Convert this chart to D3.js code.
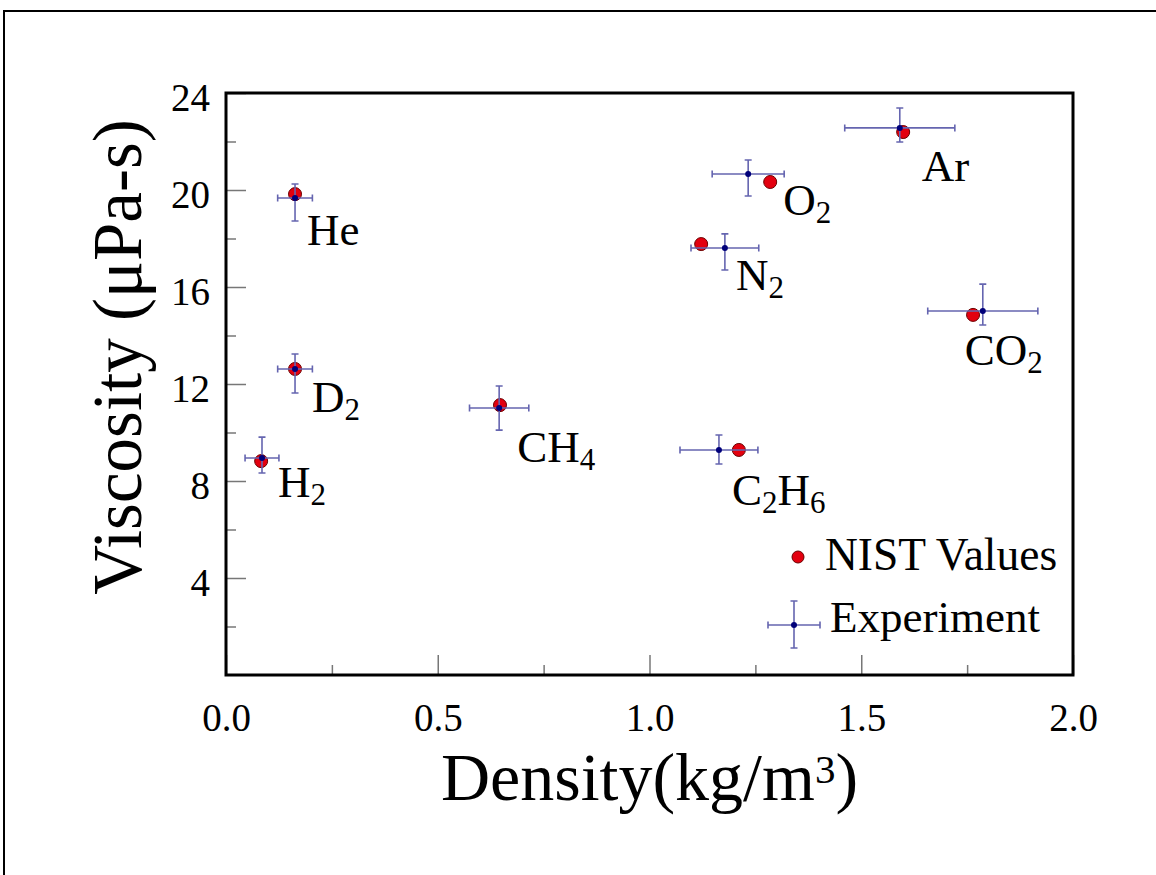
<!DOCTYPE html>
<html>
<head>
<meta charset="utf-8">
<script src="https://cdn.jsdelivr.net/npm/d3@7"></script>
<style>
  body { margin: 0; background: #fff; }
  svg { display: block; font-family: "Liberation Serif", "Times New Roman", serif; }
</style>
</head>
<body>
<script>
// gases
const gases = ['He', 'D2', 'H2', 'CH4', 'C2H6', 'N2', 'O2', 'Ar', 'CO2']

const nistDensity = [0.163, 0.163, 0.083, 0.647, 1.211, 1.122, 1.285, 1.599, 1.764]
const nistVisc = [19.83, 12.62, 8.82, 11.13, 9.28, 17.77, 20.33, 22.39, 14.85]

const expDensity = [0.163, 0.163, 0.085, 0.645, 1.164, 1.178, 1.233, 1.591, 1.787]
const expDensityErr = [0.041, 0.041, 0.040, 0.070, 0.092, 0.080, 0.085, 0.130, 0.130]
const expVisc = [19.67, 12.62, 8.95, 11.01, 9.28, 17.61, 20.66, 22.56, 15.01]
const expViscHi = [20.25, 13.24, 9.81, 11.92, 9.90, 18.19, 21.24, 23.38, 16.12]
const expViscLo = [18.72, 11.63, 8.33, 10.10, 8.70, 16.70, 19.75, 21.98, 14.43]

const xMajor = [0, 0.5, 1.0, 1.5, 2.0]
const xMinor = [0.25, 0.75, 1.25, 1.75]
const yMajor = [4, 8, 12, 16, 20, 24]
const yMinor = [2, 6, 10, 14, 18, 22]

// label offsets from the experiment point, px
const labelOffsets = [[12, 47], [17, 43], [16, 39], [18, 54], [13, 55], [11, 42], [35, 41], [22, 53], [-18, 54]]

const W = 1156, H = 875
const plotLeft = 226, plotRight = 1073, plotTop = 93, plotBottom = 675
const barColor = '#6565b0'

const svg = d3.select('body').append('svg')
    .attr('width', W)
    .attr('height', H)

// outer border
svg.append('path')
    .attr('d', `M4,${H} L4,11 L${W},11`)
    .attr('fill', 'none')
    .attr('stroke', '#000')
    .attr('stroke-width', 2)

const x = d3.scaleLinear().domain([0, 2]).range([plotLeft, plotRight])
const y = d3.scaleLinear().domain([0, 24]).range([plotBottom, plotTop])

function drawAxis(axis, tr, cls) {
    const g = svg.append('g')
        .attr('class', cls)
        .attr('transform', tr)
        .call(axis)
    g.select('.domain').remove()
    g.selectAll('.tick line').attr('stroke', '#777').attr('stroke-width', 1.5)
    g.selectAll('.tick text')
        .attr('fill', '#000')
        .style('font-family', '"Liberation Serif", serif')
        .style('font-size', '39px')
    return g
}

drawAxis(d3.axisBottom(x).tickValues(xMajor).tickSize(-20).tickPadding(28)
    .tickFormat(d3.format('.1f')), `translate(0,${plotBottom})`, 'x-major')
drawAxis(d3.axisBottom(x).tickValues(xMinor).tickSize(-10).tickFormat(''),
    `translate(0,${plotBottom})`, 'x-minor')
const yg = drawAxis(d3.axisLeft(y).tickValues(yMajor).tickSize(-20).tickPadding(16)
    .tickFormat(d3.format('d')), `translate(${plotLeft},0)`, 'y-major')
yg.selectAll('.tick text').attr('dy', '17px')
drawAxis(d3.axisLeft(y).tickValues(yMinor).tickSize(-10).tickFormat(''),
    `translate(${plotLeft},0)`, 'y-minor')

// frame
svg.append('rect')
    .attr('x', plotLeft)
    .attr('y', plotTop)
    .attr('width', plotRight - plotLeft)
    .attr('height', plotBottom - plotTop)
    .attr('fill', 'none')
    .attr('stroke', '#000')
    .attr('stroke-width', 3)

// NIST values
svg.append('g')
    .selectAll('circle')
    .data(gases)
    .enter().append('circle')
    .attr('cx', (d, i) => x(nistDensity[i]))
    .attr('cy', (d, i) => y(nistVisc[i]))
    .attr('r', 6.5)
    .attr('fill', '#e3000f')
    .attr('stroke', '#6a0000')
    .attr('stroke-width', 1)

// experiment with error bars
const cap = 3.5
const exp = svg.append('g')
    .selectAll('g')
    .data(gases)
    .enter().append('g')
    .attr('stroke', barColor)
    .attr('stroke-width', 1.6)

exp.append('path')
    .attr('fill', 'none')
    .attr('d', (d, i) => {
        const cx = x(expDensity[i]), cy = y(expVisc[i])
        const x0 = x(expDensity[i] - expDensityErr[i]), x1 = x(expDensity[i] + expDensityErr[i])
        const y0 = y(expViscLo[i]), y1 = y(expViscHi[i])
        return `M${x0},${cy}H${x1}M${cx},${y0}V${y1}`
            + `M${x0},${cy - cap}V${cy + cap}M${x1},${cy - cap}V${cy + cap}`
            + `M${cx - cap},${y0}H${cx + cap}M${cx - cap},${y1}H${cx + cap}`
    })

exp.append('circle')
    .attr('cx', (d, i) => x(expDensity[i]))
    .attr('cy', (d, i) => y(expVisc[i]))
    .attr('r', 3)
    .attr('fill', '#00007a')
    .attr('stroke', 'none')

// gas labels, digits as subscripts
const labels = svg.append('g')
    .selectAll('text')
    .data(gases)
    .enter().append('text')
    .attr('x', (d, i) => x(expDensity[i]) + labelOffsets[i][0])
    .attr('y', (d, i) => y(expVisc[i]) + labelOffsets[i][1])
    .style('font-size', '45px')

labels.each(function (d) {
    const t = d3.select(this)
    let sub = false
    d.split('').forEach(ch => {
        const isDigit = /\d/.test(ch)
        const s = t.append('tspan').text(ch)
        if (isDigit) {
            s.style('font-size', '31px')
            if (!sub) s.attr('dy', 8)
        } else if (sub) {
            s.attr('dy', -8)
        }
        sub = isDigit
    })
})

// legend
const legend = svg.append('g')
legend.append('circle')
    .attr('cx', 798).attr('cy', 557).attr('r', 6)
    .attr('fill', '#e3000f').attr('stroke', '#6a0000')
legend.append('text')
    .attr('x', 825).attr('y', 570)
    .style('font-size', '45.5px')
    .text('NIST Values')
legend.append('path')
    .attr('d', `M768,625H820M794,601V648M768,${625 - cap}V${625 + cap}M820,${625 - cap}V${625 + cap}`
        + `M${794 - cap},601H${794 + cap}M${794 - cap},648H${794 + cap}`)
    .attr('fill', 'none')
    .attr('stroke', barColor)
    .attr('stroke-width', 1.6)
legend.append('circle')
    .attr('cx', 794).attr('cy', 625).attr('r', 3)
    .attr('fill', '#00007a')
legend.append('text')
    .attr('x', 830).attr('y', 632)
    .style('font-size', '45px')
    .text('Experiment')

// axis titles
const xt = svg.append('text')
    .attr('x', (plotLeft + plotRight) / 2)
    .attr('y', 800)
    .attr('text-anchor', 'middle')
    .style('font-size', '68px')
xt.append('tspan').text('Density(kg/m')
xt.append('tspan').attr('dy', -17).style('font-size', '41px').text('3')
xt.append('tspan').attr('dy', 17).text(')')

svg.append('text')
    .attr('transform', 'translate(141,357) rotate(-90)')
    .attr('text-anchor', 'middle')
    .style('font-size', '69px')
    .text('Viscosity (\u03bcPa-s)')
</script>
</body>
</html>
